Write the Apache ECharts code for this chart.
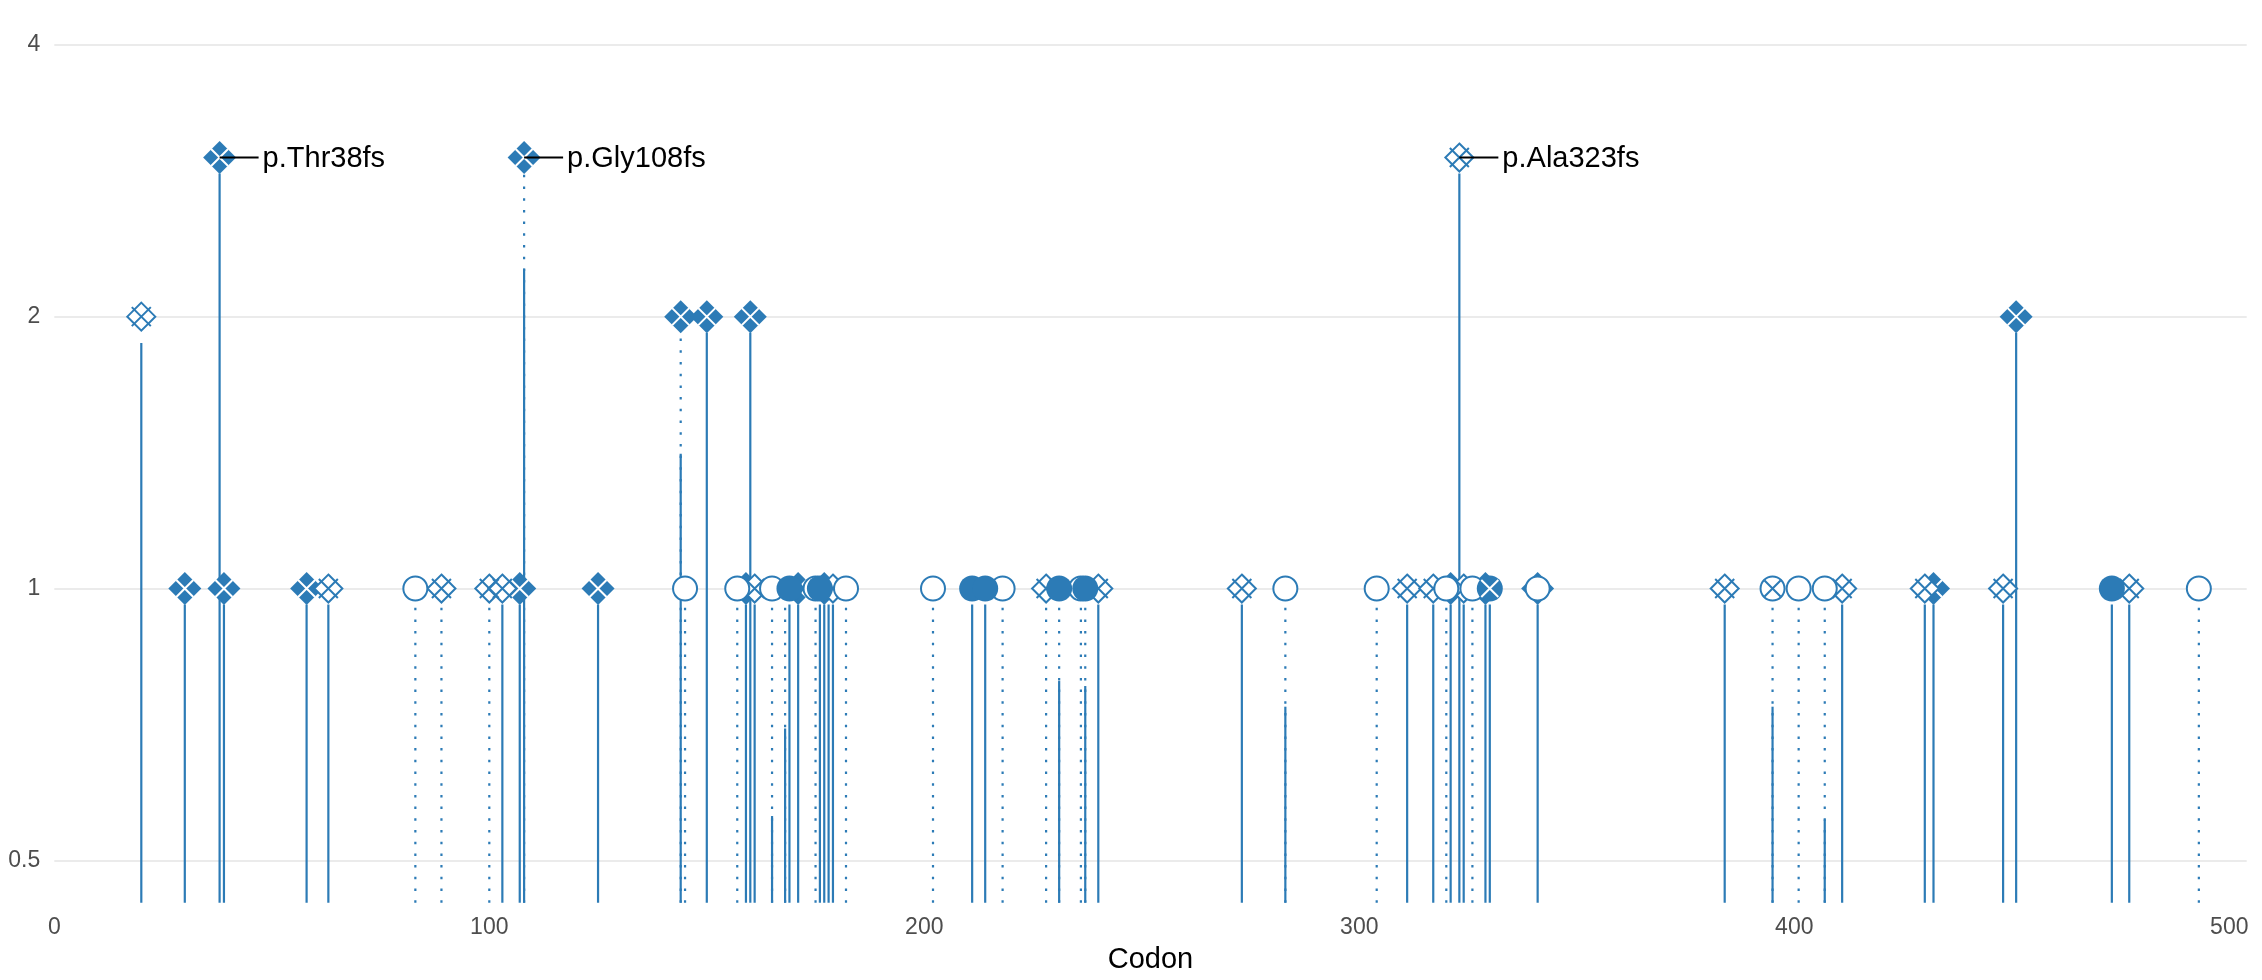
<!DOCTYPE html>
<html><head><meta charset="utf-8">
<script src="https://cdn.jsdelivr.net/npm/echarts@6/dist/echarts.min.js"></script>
<style>html,body{margin:0;padding:0;background:#fff}#c{width:2262px;height:980px}</style>
</head><body><div id="c"></div>
<script>
// ---- data ----
const xTicks = [0, 100, 200, 300, 400, 500];
const yTicks = [0.5, 1, 2, 4];
const xTitle = 'Codon';

// stems: [codon, top value]
const solidStems = [[20,1.87],[30,0.96],[38,2.88],[39,0.96],[58,0.96],[63,0.96],[103,0.96],[107,0.96],[108,2.26],[125,0.96],
  [144,1.41],[150,1.92],[159,0.96],[160,1.92],[161,0.96],[165,0.56],[168,0.70],[169,0.96],[171,0.96],[176,0.96],[177,0.96],
  [178,0.96],[179,0.96],[211,0.96],[214,0.96],[231,0.79],[237,0.78],[240,0.96],[273,0.96],[283,0.74],[311,0.96],[317,0.96],
  [321,0.96],[323,2.88],[324,0.96],[329,0.96],[330,0.96],[341,0.96],[384,0.96],[395,0.74],[407,0.555],[411,0.96],[430,0.96],
  [432,0.96],[448,0.96],[451,1.92],[473,0.96],[477,0.96]];
const dottedStems = [[83,0.96],[89,0.96],[100,0.96],[108,2.88],[144,1.92],[145,0.96],[157,0.96],[165,0.96],[168,0.96],
  [175,0.96],[182,0.96],[202,0.96],[218,0.96],[228,0.96],[231,0.96],[236,0.96],[237,0.96],[283,0.96],[304,0.96],[320,0.96],
  [326,0.96],[395,0.96],[401,0.96],[407,0.96],[493,0.96]];

// markers: [codon, count]
const filledDiamonds = [[30,1],[38,3],[39,1],[58,1],[107,1],[108,3],[125,1],[144,2],[150,2],[159,1],[160,2],[171,1],[177,1],
  [321,1],[329,1],[341,1],[432,1],[451,2]];
const openDiamonds = [[20,2],[63,1],[89,1],[100,1],[103,1],[161,1],[179,1],[228,1],[240,1],[273,1],[311,1],[317,1],[323,3],
  [324,1],[384,1],[411,1],[430,1],[448,1],[477,1]];
const openCircles = [[83,1],[145,1],[157,1],[165,1],[175,1],[182,1],[202,1],[218,1],[236,1],[283,1],[304,1],[320,1],[326,1],
  [341,1],[401,1],[407,1],[493,1]];
const openCirclesX = [[395,1]];
const filledCircles = [[169,1],[176,1],[211,1],[214,1],[231,1],[237,1],[473,1]];
const filledCirclesX = [[330,1]];

// labels
const labelPoints = [[38,3],[108,3],[323,3]];
const labelTexts = ['p.Thr38fs','p.Gly108fs','p.Ala323fs'];

// ---- style ----
const BLUE = '#2c7bb6';
const Y_MIN = 0.449, Y_MAX = 4, X_MIN = 0, X_MAX = 504;
const FONT = '"Liberation Sans", Arial, Helvetica, sans-serif';
const DIAMOND = 'path://M0,-1L1,0L0,1L-1,0Z';
const CROSS = 'path://M-1,-1L1,1M1,-1L-1,1';

function stemSeries(data, dash) {
  return {
    type: 'custom', data: data, silent: true, z: 1,
    encode: {x: 0, y: 1},
    renderItem: function (params, api) {
      const x = api.value(0), top = api.value(1);
      const p1 = api.coord([x, Y_MIN]);
      const p2 = api.coord([x, top]);
      return {type: 'line', shape: {x1: p1[0], y1: p1[1], x2: p2[0], y2: p2[1]},
        style: {stroke: BLUE, lineWidth: 2.2, lineDash: dash, lineCap: 'butt'}};
    }
  };
}
function markSeries(data, symbol, size, fill, stroke, bw) {
  return {type: 'scatter', data: data, symbol: symbol, symbolSize: size, silent: true, z: 2,
    itemStyle: {color: fill, borderColor: stroke, borderWidth: bw, opacity: 1}};
}

const chart = echarts.init(document.getElementById('c'), null, {renderer: 'canvas'});
chart.setOption({
  animation: false,
  backgroundColor: '#ffffff',
  grid: {left: 54.3, right: 15.3, top: 44.7, bottom: 77.3, containLabel: false},
  xAxis: {
    type: 'value', min: X_MIN, max: X_MAX, interval: 100,
    axisLine: {show: false}, axisTick: {show: false}, splitLine: {show: false},
    axisLabel: {show: true, margin: 13, color: '#4d4d4d', fontSize: 23, fontFamily: FONT, showMaxLabel: false,
      formatter: function (v) { return xTicks.indexOf(v) >= 0 ? String(v) : ''; }},
    name: xTitle, nameLocation: 'middle', nameGap: 43,
    nameTextStyle: {color: '#000', fontSize: 29, fontFamily: FONT}
  },
  yAxis: {
    type: 'log', logBase: 2, min: Y_MIN, max: Y_MAX,
    axisLine: {show: false}, axisTick: {show: false},
    splitLine: {show: true, showMinLine: false, lineStyle: {color: '#ebebeb', width: 2}},
    axisLabel: {margin: 14, color: '#4d4d4d', fontSize: 23, fontFamily: FONT, showMinLabel: false,
      formatter: function (v) {
        for (const t of yTicks) { if (Math.abs(v - t) < 1e-6) return String(t); }
        return '';
      }}
  },
  series: [
    stemSeries(solidStems, null),
    stemSeries(dottedStems, [2.5, 9.2]),
    markSeries(filledDiamonds, DIAMOND, 33, BLUE, BLUE, 0),
    markSeries(filledDiamonds, CROSS, 17, 'none', '#ffffff', 2),
    markSeries(openDiamonds, DIAMOND, 28, '#ffffff', BLUE, 2),
    markSeries(openDiamonds, CROSS, 19, 'none', BLUE, 2),
    markSeries(openCircles, 'circle', 24, '#ffffff', BLUE, 2),
    markSeries(openCirclesX, 'circle', 24, '#ffffff', BLUE, 2),
    markSeries(openCirclesX, CROSS, 16, 'none', BLUE, 2),
    markSeries(filledCircles, 'circle', 26, BLUE, BLUE, 0),
    markSeries(filledCirclesX, 'circle', 26, BLUE, BLUE, 0),
    markSeries(filledCirclesX, CROSS, 17, 'none', '#ffffff', 2),
    {
      type: 'custom', data: labelPoints, silent: true, z: 5, encode: {x: 0, y: 1},
      renderItem: function (params, api) {
        const p = api.coord([api.value(0), api.value(1)]);
        return {type: 'group', children: [
          {type: 'line', shape: {x1: p[0], y1: p[1], x2: p[0] + 39, y2: p[1]}, style: {stroke: '#000', lineWidth: 2}},
          {type: 'text', x: p[0] + 43, y: p[1] + 1,
            style: {text: labelTexts[params.dataIndex], fill: '#000', fontSize: 29, fontFamily: FONT,
              align: 'left', verticalAlign: 'middle'}}
        ]};
      }
    }
  ]
});
</script></body></html>
